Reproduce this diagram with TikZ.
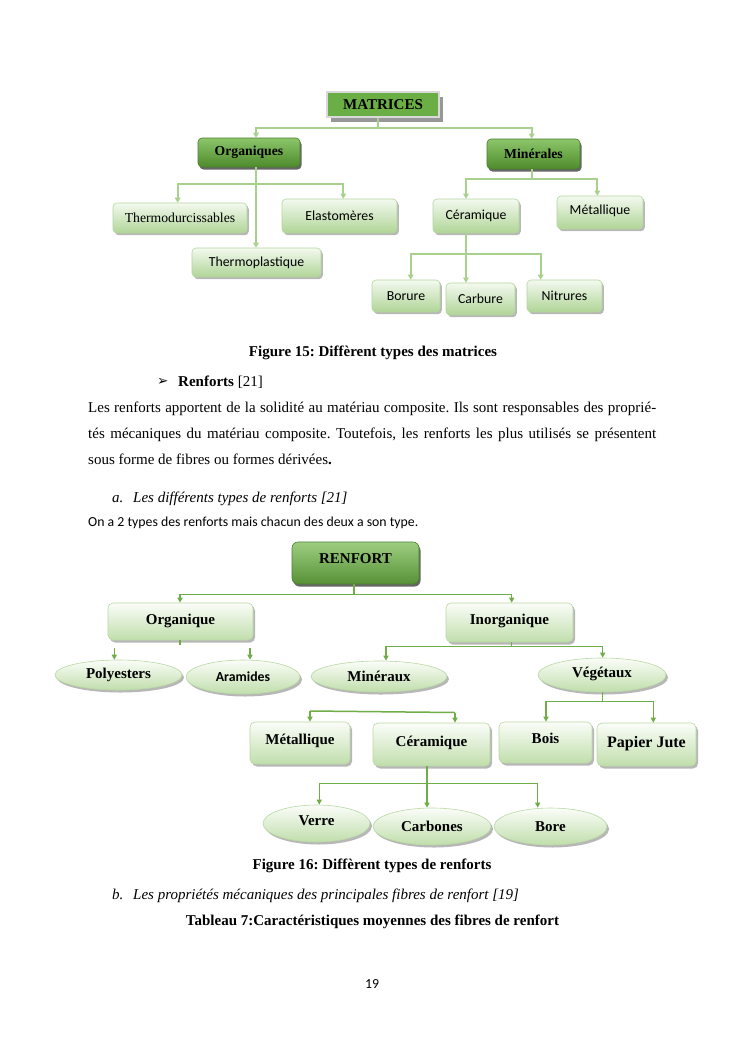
\documentclass[tikz,border=0pt]{standalone}
\usepackage{fontspec}
\setmainfont{Liberation Serif}
\newfontfamily\calib{Carlito}
\newfontfamily\dejavu{DejaVu Sans}
\usetikzlibrary{arrows.meta,shadows,shapes.geometric,calc}
\definecolor{tline}{HTML}{A9D18E}
\definecolor{bline}{HTML}{70AD47}
\definecolor{lbtop}{HTML}{F3F9EF}
\definecolor{lbbot}{HTML}{B0D597}
\definecolor{lbedge}{HTML}{B5D5A0}
\definecolor{dbtop}{HTML}{8CC56A}
\definecolor{dbbot}{HTML}{4E8B2C}
\definecolor{dbedge}{HTML}{4A7F2C}
\definecolor{mgreen}{HTML}{6CAE46}
\definecolor{btop}{HTML}{FBFDF9}
\definecolor{bbot}{HTML}{C0DEAB}
\definecolor{bedge}{HTML}{B9D8A4}
\newcommand\myfs[1]{\fontsize{#1pt}{#1pt}\selectfont}
\frenchspacing
\tikzset{
  tl/.style={draw=tline, line width=1.8pt},
  tla/.style={tl, -{Triangle[length=5pt,width=5.5pt]}},
  bl/.style={draw=bline, line width=1.5pt},
  bla/.style={bl, -{Triangle[length=5pt,width=5pt]}},
  lbox/.style={rectangle, rounded corners=4pt, top color=lbtop, bottom color=lbbot, draw=lbedge, line width=0.6pt, inner sep=0pt,
    drop shadow={shadow xshift=1.8pt, shadow yshift=-2.2pt, fill=black!40, opacity=0.7}},
  dbox/.style={rectangle, rounded corners=4pt, top color=dbtop, bottom color=dbbot, draw=dbedge, line width=0.6pt, inner sep=0pt,
    drop shadow={shadow xshift=1.5pt, shadow yshift=-2.5pt, fill=black!75, opacity=0.8}, font={\myfs{13.7}\bfseries}},
  mbox/.style={rectangle, fill=mgreen, draw=black!15, line width=2.5pt, inner sep=0pt,
    drop shadow={shadow xshift=3.5pt, shadow yshift=-4.5pt, fill=black!45, opacity=0.9}, font={\myfs{15}\bfseries}},
  rbox/.style={rectangle, rounded corners=6pt, top color=dbtop!85!white, bottom color=dbbot!95!white, draw=dbedge, line width=0.6pt, inner sep=0pt,
    drop shadow={shadow xshift=1.5pt, shadow yshift=-2.5pt, fill=black!75, opacity=0.8}, font={\myfs{15}\bfseries}},
  bbox/.style={rectangle, rounded corners=5pt, top color=btop, bottom color=bbot, draw=bedge, line width=0.6pt, inner sep=0pt,
    drop shadow={shadow xshift=2pt, shadow yshift=-2.5pt, fill=black!40, opacity=0.7}, font={\myfs{15}\bfseries}},
  bell/.style={ellipse, top color=btop, bottom color=bbot, draw=bedge, line width=0.6pt, inner sep=0pt,
    drop shadow={shadow xshift=2pt, shadow yshift=-2.5pt, fill=black!40, opacity=0.7}, font={\myfs{15}\bfseries}},
  cal/.style={font={\calib\myfs{13.8}}},
  tms/.style={font={\myfs{13.7}}},
  txt/.style={inner sep=0pt, font={\myfs{15}}},
}
\begin{document}
\begin{tikzpicture}[x=1pt,y=-1pt]
\useasboundingbox (0,0) rectangle (745,1053);
\fill[white] (0,0) rectangle (745,1053);

% ---------- Figure 15 : matrices ----------
\node[mbox, minimum width=112pt, minimum height=25pt] (matrices) at (383,104.5) {MATRICES};
\node[dbox, minimum width=102pt, minimum height=29pt] (orgq) at (249,152.5) {Organiques};
\node[dbox, minimum width=93pt, minimum height=30pt] (minq) at (533.5,154) {Minérales};
\node[lbox, tms, minimum width=134pt, minimum height=30pt] (thermod) at (180,218) {Thermodurcissables};
\node[lbox, cal, minimum width=115pt, minimum height=34pt] (elast) at (339.5,216) {Elastomères};
\node[lbox, cal, minimum width=129pt, minimum height=29pt] (thermop) at (256.5,262.5) {Thermoplastique};
\node[lbox, cal, minimum width=86pt, minimum height=34pt] (ceram) at (476,216) {Céramique};
\node[lbox, cal, minimum width=86pt, minimum height=33pt, text depth=5pt] (metal) at (600,212.5) {Métallique};
\node[lbox, cal, minimum width=68pt, minimum height=32pt] (borure) at (406,296) {Borure};
\node[lbox, cal, minimum width=69pt, minimum height=32pt] (carbure) at (480.5,299) {Carbure};
\node[lbox, cal, minimum width=75pt, minimum height=32pt] (nitrures) at (564.5,296) {Nitrures};

\coordinate (mb) at (378,128.3);
\draw[tl] ([xshift=-5pt]matrices.south) -- (mb);
\draw[tla] (mb) -| ([xshift=7pt]orgq.north);
\draw[tla] (mb) -| ([xshift=-1.8pt]minq.north);

\coordinate (ob) at (256,184);
\draw[tla] ([xshift=7pt]orgq.south) -- ([xshift=-0.5pt]thermop.north);
\draw[tla] (ob) -| ([xshift=-2.3pt]thermod.north);
\draw[tla] (ob) -| ([xshift=3.8pt]elast.north);

\coordinate (nb) at (531.7,179.3);
\draw[tl] ([xshift=-1.8pt]minq.south) -- (nb);
\draw[tla] (nb) -| ([xshift=-10pt]ceram.north);
\draw[tla] (nb) -| ([xshift=-2.7pt]metal.north);

\coordinate (cb) at (466,254);
\draw[tl] ([xshift=-10pt]ceram.south) -- (cb);
\draw[tla] (cb) -| ([xshift=4.7pt]borure.north);
\draw[tla] (cb) -| ([xshift=-14.5pt]carbure.north);
\draw[tla] (cb) -| ([xshift=-23.8pt]nitrures.north);

% ---------- text ----------
\node[txt, anchor=base, font={\myfs{15}\bfseries}] (cap15) at (373,356) {Figure 15: Diffèrent types des matrices};
\node[txt, anchor=base west, font={\dejavu\myfs{13.5}}] (bul) at (157,385.5) {➢};
\node[txt, anchor=base west] (renh) at (178,386) {\textbf{Renforts} [21]};
\node[txt, anchor=base west] (l1) at (88,412) {\makebox[568pt][s]{Les renforts apportent de la solidité au matériau composite. Ils sont responsables des proprié-}};
\node[txt, anchor=base west] (l2) at (88,438) {\makebox[568pt][s]{tés mécaniques du matériau composite. Toutefois, les renforts les plus utilisés se présentent}};
\node[txt, anchor=base west] (l3) at (88,464) {sous forme de fibres ou formes dérivées\textbf{.}};
\node[txt, anchor=base west, font={\myfs{15}\itshape}] (la) at (112,502) {a.};
\node[txt, anchor=base west, font={\myfs{15}\itshape}] (lat) at (133,502) {Les différents types de renforts [21]};
\node[txt, anchor=base west, font={\calib\myfs{13.8}}] (on) at (88,526) {On a 2 types des renforts mais chacun des deux a son type.};

% ---------- Figure 16 : renforts ----------
\node[rbox, minimum width=127pt, minimum height=42pt, text depth=8pt] (renfort) at (355.5,563) {RENFORT};
\node[bbox, minimum width=145pt, minimum height=37pt, text depth=5pt] (orga) at (180.5,621.5) {Organique};
\node[bbox, minimum width=127pt, minimum height=39pt, text depth=6pt] (inorg) at (509.5,622.5) {Inorganique};
\node[bell, minimum width=127pt, minimum height=30pt] (polyesters) at (118.5,675) {Polyesters};
\node[bell, minimum width=114pt, minimum height=34pt, font={\calib\myfs{13.8}\bfseries}] (aramides) at (243,677) {Aramides};
\node[bell, minimum width=136pt, minimum height=31pt] (mineraux) at (379,676.5) {Minéraux};
\node[bell, minimum width=128pt, minimum height=34pt, text depth=6pt] (vegetaux) at (602,675) {Végétaux};
\node[bbox, minimum width=100pt, minimum height=42pt, text depth=8pt] (metalB) at (300,743) {Métallique};
\node[bbox, minimum width=117pt, minimum height=43pt, text depth=6pt] (ceramB) at (431.5,744.5) {Céramique};
\node[bbox, minimum width=93pt, minimum height=41pt, text depth=8pt] (bois) at (545.5,742.5) {Bois};
\node[bbox, minimum width=99pt, minimum height=43pt, text depth=6pt, font={\myfs{16}\bfseries}] (papier) at (646.5,744.5) {Papier Jute};
\node[bell, minimum width=107pt, minimum height=37pt, text depth=6pt] (verre) at (316.5,823.5) {Verre};
\node[bell, minimum width=118pt, minimum height=37pt] (carbones) at (432,826.5) {Carbones};
\node[bell, minimum width=113pt, minimum height=37pt] (bore) at (550.5,826.5) {Bore};

\coordinate (rb) at (354,594.3);
\draw[bl] ([xshift=-1.5pt]renfort.south) -- (rb);
\draw[bla] (rb) -| ([xshift=-0.5pt]orga.north);
\draw[bla] (rb) -| ([xshift=2.2pt]inorg.north);

\draw[bl] ([xshift=-0.5pt]orga.south) -- ++(0,5);
\coordinate (pa) at (114.3,648);
\draw[bla] (pa) -- ([xshift=-4.2pt]polyesters.north);
\coordinate (aa) at (250,648);
\draw[bla] (aa) -- ([xshift=7pt]aramides.north);

\coordinate (ib) at (511.7,646.7);
\draw[bl] ([xshift=2.2pt]inorg.south) -- (ib);
\draw[bla] (ib) -| ([xshift=7pt]mineraux.north);
\draw[bla] (ib) -| ([xshift=0.7pt]vegetaux.north);

\coordinate (vb) at (602.7,701.7);
\draw[bl] ([xshift=0.7pt]vegetaux.south) -- (vb);
\draw[bla] (vb) -| ([xshift=0.5pt]bois.north);
\draw[bla] (vb) -| ([xshift=6.8pt]papier.north);

\coordinate (mL) at (310,711);
\coordinate (mR) at (455,712.5);
\draw[bl] (mL) -- (mR);
\draw[bla] (mL) -- ([xshift=10pt]metalB.north);
\draw[bla] (mR) -- ([xshift=23.5pt]ceramB.north);

\coordinate (kb) at (427,783.3);
\draw[bla] ([xshift=-4.5pt]ceramB.south) -- ([xshift=-5pt]carbones.north);
\draw[bla] (kb) -| ([xshift=2.8pt]verre.north);
\draw[bla] (kb) -| ([xshift=-12.8pt]bore.north);

% ---------- text ----------
\node[txt, anchor=base, font={\myfs{15}\bfseries}] (cap16) at (372,869) {Figure 16: Diffèrent types de renforts};
\node[txt, anchor=base west, font={\myfs{15}\itshape}] (lb) at (112,899) {b.};
\node[txt, anchor=base west, font={\myfs{15}\itshape}] (lbt) at (133,899) {Les propriétés mécaniques des principales fibres de renfort [19]};
\node[txt, anchor=base, font={\myfs{15}\bfseries}] (tab) at (372.5,925) {Tableau 7:Caractéristiques moyennes des fibres de renfort};
\node[txt, anchor=base, font={\calib\myfs{13.8}}] (pg) at (372,988) {19};
\end{tikzpicture}
\end{document}
